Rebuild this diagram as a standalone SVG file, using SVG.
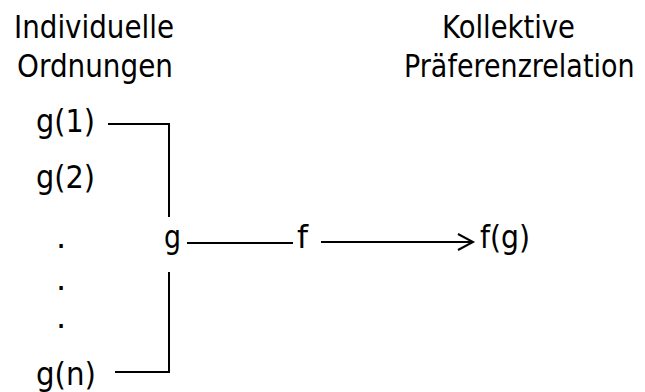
<svg xmlns="http://www.w3.org/2000/svg" width="645" height="392" viewBox="0 0 645 392">
  <style>
    text { font-family: "DejaVu Sans", Verdana, sans-serif; font-size: 32px; fill: #000; }
    .wire { fill: none; stroke: #000; stroke-width: 2; }
  </style>
  <defs>
    <marker id="openArrow" markerWidth="20" markerHeight="20" refX="16" refY="9" orient="auto" markerUnits="userSpaceOnUse">
      <path d="M1,1 L16,9 L1,17" fill="none" stroke="#000" stroke-width="2"/>
    </marker>
  </defs>

  <g id="header-individual">
    <text x="14" y="38" textLength="160" lengthAdjust="spacingAndGlyphs">Individuelle</text>
    <text x="17" y="77" textLength="156" lengthAdjust="spacingAndGlyphs">Ordnungen</text>
  </g>
  <g id="header-collective">
    <text x="442" y="38" textLength="133" lengthAdjust="spacingAndGlyphs">Kollektive</text>
    <!-- horizontally condensed so the long word stays inside the frame -->
    <text transform="translate(404,77) scale(0.843,1)" x="0" y="0">Präferenzrelation</text>
  </g>

  <g id="node-g1"><text x="36" y="132" textLength="59" lengthAdjust="spacingAndGlyphs">g(1)</text></g>
  <g id="node-g2"><text x="36" y="188" textLength="59" lengthAdjust="spacingAndGlyphs">g(2)</text></g>
  <g id="node-dots">
    <text x="56" y="248">.</text>
    <text x="56" y="290">.</text>
    <text x="56" y="328">.</text>
  </g>
  <g id="node-gn"><text x="36" y="385" textLength="60" lengthAdjust="spacingAndGlyphs">g(n)</text></g>
  <g id="node-g"><text x="164" y="248" textLength="17" lengthAdjust="spacingAndGlyphs">g</text></g>
  <g id="node-f"><text x="297" y="248" textLength="11" lengthAdjust="spacingAndGlyphs">f</text></g>
  <g id="node-fg"><text x="480" y="248" textLength="50" lengthAdjust="spacingAndGlyphs">f(g)</text></g>

  <g id="connectors">
    <polyline class="wire" points="108,124 169,124 169,217"/>
    <polyline class="wire" points="169,272 169,372 115,372"/>
    <line class="wire" x1="187" y1="243" x2="293" y2="243"/>
    <line class="wire" x1="321" y1="242" x2="473" y2="242" marker-end="url(#openArrow)"/>
  </g>
</svg>
